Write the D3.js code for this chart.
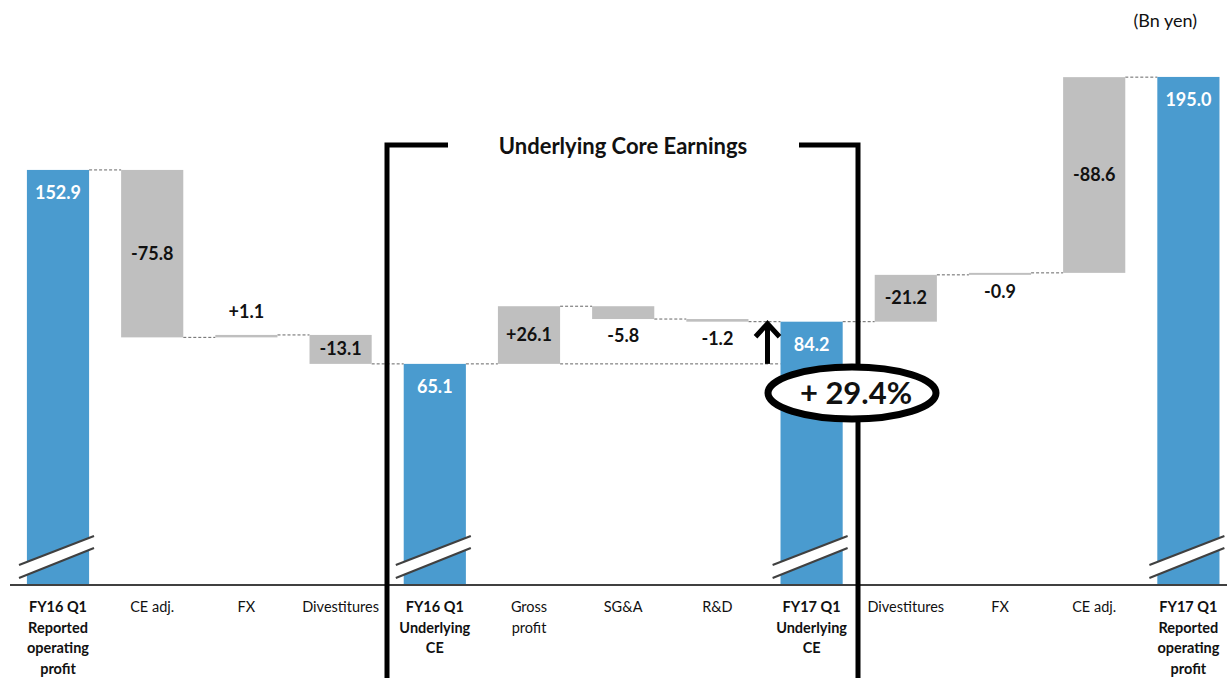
<!DOCTYPE html>
<html>
<head>
<meta charset="utf-8">
<script src="https://cdn.jsdelivr.net/npm/d3@7"></script>
<style>
	body{margin:0;background:#fff;}
	text{font-family:Lato,"Open Sans",sans-serif;}
</style>
</head>
<body>
<div class="chart"></div>
<script>
// waterfall data
const categories=[
	['FY16 Q1','Reported','operating','profit'],
	['CE adj.'],
	['FX'],
	['Divestitures'],
	['FY16 Q1','Underlying','CE'],
	['Gross','profit'],
	['SG&A'],
	['R&D'],
	['FY17 Q1','Underlying','CE'],
	['Divestitures'],
	['FX'],
	['CE adj.'],
	['FY17 Q1','Reported','operating','profit']
];
const values=[152.9,-75.8,1.1,-13.1,65.1,26.1,-5.8,-1.2,84.2,-21.2,-0.9,-88.6,195.0];
const isTotal=[true,false,false,false,true,false,false,false,true,false,false,false,true];
// right part of the bridge runs backwards (adjustments removed from reported profit)
const bridgeSign=[1,1,1,1,1,1,1,1,1,-1,-1,-1,1];
const valueLabels=['152.9','-75.8','+1.1','-13.1','65.1','+26.1','-5.8','-1.2','84.2','-21.2','-0.9','-88.6','195.0'];
const growthLabel='+ 29.4%';
const title='Underlying Core Earnings';
const unitLabel='(Bn yen)';

const width=1227;
const height=678;
const baseY=585;
const axisFloor=-35; // broken axis: bars start here

const svg=d3.select('.chart')
	.append('svg')
	.attr('width',width)
	.attr('height',height)

const x=d3.scaleBand()
	.domain(d3.range(categories.length))
	.range([10.9,1235.5])
	.paddingInner(0.34)
	.paddingOuter(0.17)

const y=d3.scaleLinear()
	.domain([axisFloor,200])
	.range([baseY,baseY-235*2.209])

// build the steps
let running=0;
const steps=values.map((v,i)=>{
	let start,end;
	if(isTotal[i]){
		start=axisFloor;
		end=v;
	} else{
		start=running;
		end=running+bridgeSign[i]*v;
	}
	running=end;
	return {i:i,start:start,end:end,level:end,total:isTotal[i],label:valueLabels[i],v:v}
})

const blue='#4a9bcf';
const grey='#bfbfbf';

// dashed connectors
svg.selectAll('.conn')
	.data(steps.slice(0,-1))
	.enter()
	.append('line')
	.attr('x1',d=>x(d.i)+x.bandwidth())
	.attr('x2',d=>x(d.i+1))
	.attr('y1',d=>y(d.level))
	.attr('y2',d=>y(d.level))
	.attr('stroke','#666')
	.attr('stroke-width',1)
	.attr('stroke-dasharray','3,2')

// reference line at FY16 underlying level across the core earnings bridge
svg.append('line')
	.attr('x1',x(5)+x.bandwidth())
	.attr('x2',x(8))
	.attr('y1',y(values[4]))
	.attr('y2',y(values[4]))
	.attr('stroke','#666')
	.attr('stroke-width',1)
	.attr('stroke-dasharray','3,2')

// bars
svg.selectAll('.bar')
	.data(steps)
	.enter()
	.append('rect')
	.attr('x',d=>x(d.i))
	.attr('width',x.bandwidth())
	.attr('y',d=>y(Math.max(d.start,d.end)))
	.attr('height',d=>Math.abs(y(d.start)-y(d.end)))
	.attr('fill',d=>d.total?blue:grey)

// axis line
svg.append('line')
	.attr('x1',10)
	.attr('x2',width)
	.attr('y1',baseY)
	.attr('y2',baseY)
	.attr('stroke','#404040')
	.attr('stroke-width',2)

// break marks on the total bars
const totals=steps.filter(d=>d.total);
const brk=svg.selectAll('.brk')
	.data(totals)
	.enter()
	.append('g')
	.attr('transform',d=>'translate('+(x(d.i)+x.bandwidth()/2)+','+baseY+')')
brk.append('polygon')
	.attr('points','-39,-20 36,-49 36,-37 -39,-7')
	.attr('fill','#fff')
brk.append('line')
	.attr('x1',-39).attr('y1',-20).attr('x2',36).attr('y2',-49)
	.attr('stroke','#404040').attr('stroke-width',2)
brk.append('line')
	.attr('x1',-39).attr('y1',-7).attr('x2',36).attr('y2',-37)
	.attr('stroke','#404040').attr('stroke-width',2)

// value labels
svg.selectAll('.val')
	.data(steps)
	.enter()
	.append('text')
	.attr('x',d=>x(d.i)+x.bandwidth()/2)
	.attr('y',function(d){
		const top=y(Math.max(d.start,d.end));
		const bot=y(Math.min(d.start,d.end));
		if(d.total) return top+29;
		if(bot-top<25){
			if(d.v>0) return top-17;
			return bot+23;
		}
		return (top+bot)/2+6;
	})
	.attr('text-anchor','middle')
	.attr('font-size',18)
	.attr('font-weight','bold')
	.attr('fill',d=>d.total?'#fff':'#111')
	.text(d=>d.label)

// category labels
const cat=svg.selectAll('.cat')
	.data(categories)
	.enter()
	.append('text')
	.attr('text-anchor','middle')
	.attr('font-size',14.5)
	.attr('font-weight',(d,i)=>isTotal[i]?'bold':'normal')
	.attr('fill','#111')
cat.selectAll('tspan')
	.data((d,i)=>d.map(t=>({t:t,i:i})))
	.enter()
	.append('tspan')
	.attr('x',d=>x(d.i)+x.bandwidth()/2)
	.attr('y',(d,j)=>612+j*20.6)
	.text(d=>d.t)

// bracket around the underlying core earnings
const bl=387, br=858, bt=145;
svg.append('path')
	.attr('d','M'+bl+','+(height+5)+' V'+bt+' H448')
	.attr('fill','none')
	.attr('stroke','#000')
	.attr('stroke-width',5)
svg.append('path')
	.attr('d','M799,'+bt+' H'+br+' V'+(height+5))
	.attr('fill','none')
	.attr('stroke','#000')
	.attr('stroke-width',5)

svg.append('text')
	.attr('x',623)
	.attr('y',154)
	.attr('text-anchor','middle')
	.attr('font-size',22)
	.attr('font-weight','bold')
	.attr('fill','#111')
	.text(title)

// growth arrow
const ax=x(8)-13;
svg.append('line')
	.attr('x1',ax).attr('x2',ax)
	.attr('y1',y(values[4])).attr('y2',y(values[8])+2)
	.attr('stroke','#000').attr('stroke-width',5)
svg.append('path')
	.attr('d','M'+(ax-12)+','+(y(values[8])+15)+' L'+ax+','+(y(values[8])+2)+' L'+(ax+12)+','+(y(values[8])+15))
	.attr('fill','none')
	.attr('stroke','#000')
	.attr('stroke-width',5)

// growth ellipse
svg.append('ellipse')
	.attr('cx',852)
	.attr('cy',393)
	.attr('rx',84)
	.attr('ry',26)
	.attr('fill','#fff')
	.attr('stroke','#000')
	.attr('stroke-width',7)
svg.append('text')
	.attr('x',856)
	.attr('y',404)
	.attr('text-anchor','middle')
	.attr('font-size',31)
	.attr('font-weight','bold')
	.attr('fill','#111')
	.text(growthLabel)

svg.append('text')
	.attr('x',1197)
	.attr('y',27)
	.attr('text-anchor','end')
	.attr('font-size',18)
	.attr('fill','#111')
	.text(unitLabel)
</script>
</body>
</html>
